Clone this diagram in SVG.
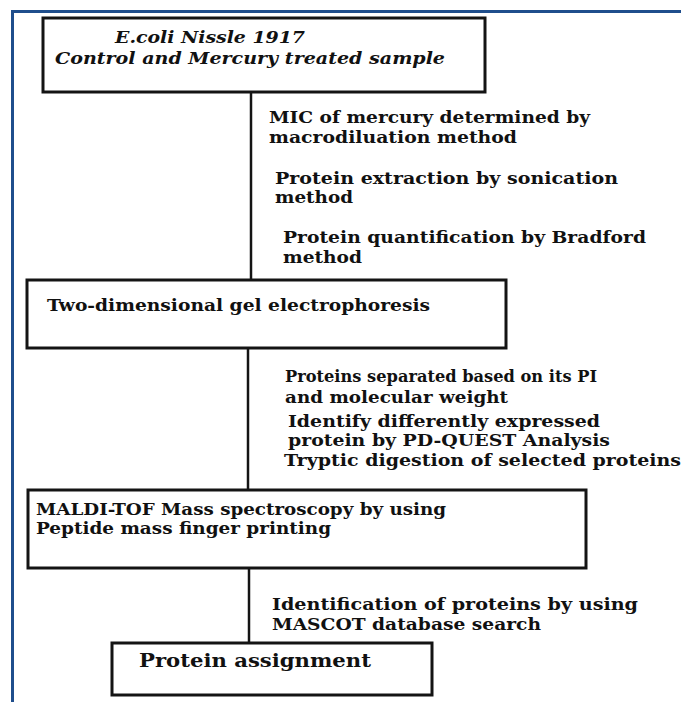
<svg xmlns="http://www.w3.org/2000/svg" width="681" height="702" viewBox="0 0 681 702">
<style>
.box{fill:#fff;stroke:#141414;stroke-width:3}
.conn{stroke:#141414;stroke-width:2.5;fill:none}
.frame{stroke:#1f4e8c;stroke-width:3;fill:none}
text{font-family:"DejaVu Serif","Liberation Serif",serif;font-weight:bold;font-size:16.5px;fill:#111}
.it{font-style:italic}
.big{font-size:19px}
</style>
<rect width="681" height="702" fill="#fff"/>
<path class="frame" d="M12.5,702 V11.5 H681"/>
<g id="connectors">
<line class="conn" x1="251" y1="92" x2="251" y2="280"/>
<line class="conn" x1="248" y1="348" x2="248" y2="490"/>
<line class="conn" x1="249" y1="568" x2="249" y2="643"/>
</g>
<g id="node1">
<rect class="box" x="43" y="18" width="442" height="74"/>
<text class="it" x="115" y="43" textLength="190" lengthAdjust="spacingAndGlyphs">E.coli Nissle 1917</text>
<text class="it" x="55" y="64" textLength="390" lengthAdjust="spacingAndGlyphs">Control and Mercury treated sample</text>
</g>
<g id="label1">
<text x="269" y="123" textLength="321" lengthAdjust="spacingAndGlyphs">MIC of mercury determined by</text>
<text x="269" y="143" textLength="248" lengthAdjust="spacingAndGlyphs">macrodiluation method</text>
<text x="275" y="184" textLength="343" lengthAdjust="spacingAndGlyphs">Protein extraction by sonication</text>
<text x="275" y="203" textLength="78" lengthAdjust="spacingAndGlyphs">method</text>
<text x="283" y="243" textLength="363" lengthAdjust="spacingAndGlyphs">Protein quantification by Bradford</text>
<text x="283" y="263" textLength="79" lengthAdjust="spacingAndGlyphs">method</text>
</g>
<g id="node2">
<rect class="box" x="27" y="280" width="479" height="68"/>
<text x="47" y="311" textLength="383" lengthAdjust="spacingAndGlyphs">Two-dimensional gel electrophoresis</text>
</g>
<g id="label2">
<text x="285" y="382" textLength="312" lengthAdjust="spacingAndGlyphs">Proteins separated based on its PI</text>
<text x="285" y="403" textLength="223" lengthAdjust="spacingAndGlyphs">and molecular weight</text>
<text x="288" y="427" textLength="312" lengthAdjust="spacingAndGlyphs">Identify differently expressed</text>
<text x="288" y="446" textLength="322" lengthAdjust="spacingAndGlyphs">protein by PD-QUEST Analysis</text>
<text x="284" y="466" textLength="397" lengthAdjust="spacingAndGlyphs">Tryptic digestion of selected proteins</text>
</g>
<g id="node3">
<rect class="box" x="28" y="490" width="558" height="78"/>
<text x="36" y="515" textLength="410" lengthAdjust="spacingAndGlyphs">MALDI-TOF Mass spectroscopy by using</text>
<text x="36" y="534" textLength="295" lengthAdjust="spacingAndGlyphs">Peptide mass finger printing</text>
</g>
<g id="label3">
<text x="272" y="610" textLength="366" lengthAdjust="spacingAndGlyphs">Identification of proteins by using</text>
<text x="272" y="630" textLength="269" lengthAdjust="spacingAndGlyphs">MASCOT database search</text>
</g>
<g id="node4">
<rect class="box" x="112" y="643" width="320" height="52"/>
<text class="big" x="139" y="667" textLength="232" lengthAdjust="spacingAndGlyphs">Protein assignment</text>
</g>
</svg>
